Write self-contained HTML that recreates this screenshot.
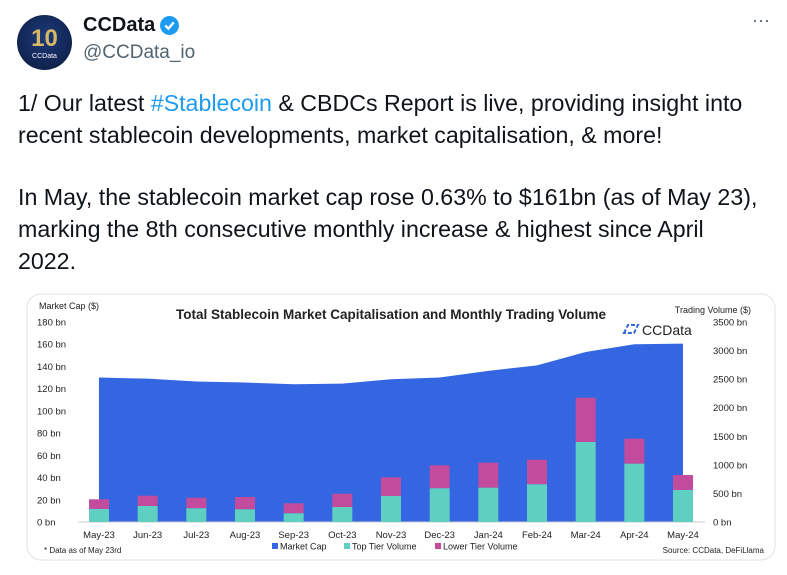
<!DOCTYPE html>
<html><head><meta charset="utf-8"><style>
body{margin:0;width:787px;height:575px;background:#fff;font-family:"Liberation Sans",sans-serif;position:relative;overflow:hidden}
.t{position:absolute;left:18px;font-size:23.2px;color:#0f1419;white-space:nowrap;line-height:32px}
</style></head><body>
<div style="position:absolute;left:17px;top:15px;width:55px;height:55px;border-radius:50%;background:radial-gradient(circle at 50% 40%,#1d3a7a,#0b1a3e);overflow:hidden">
<div style="position:absolute;left:0;right:0;top:10px;text-align:center;color:#d8b765;font-size:24px;font-weight:bold">10</div>
<div style="position:absolute;left:0;right:0;top:38px;text-align:center;color:#fff;font-size:7px">CCData</div></div>
<div style="position:absolute;left:83px;top:14px;font-size:20px;font-weight:bold;color:#0f1419">CCData</div>
<svg style="position:absolute;left:159px;top:15px" width="21" height="21" viewBox="0 0 20 20"><circle cx="10" cy="10" r="9" fill="#1d9bf0"/><path d="M6 10l3 3 5-6" stroke="#fff" stroke-width="2.2" fill="none"/></svg>
<div style="position:absolute;left:83px;top:42px;font-size:19px;color:#536471">@CCData_io</div>
<div style="position:absolute;left:752px;top:10px;font-size:18px;color:#536471">···</div>
<div class="t" style="top:87px">1/ Our latest <span style="color:#1d9bf0">#Stablecoin</span> &amp; CBDCs Report is live, providing insight into</div>
<div class="t" style="top:119px">recent stablecoin developments, market capitalisation, &amp; more!</div>
<div class="t" style="top:181px">In May, the stablecoin market cap rose 0.63% to $161bn (as of May 23),</div>
<div class="t" style="top:213px">marking the 8th consecutive monthly increase &amp; highest since April</div>
<div class="t" style="top:245px">2022.</div>
<svg id="chart" style="position:absolute;left:0;top:0" width="787" height="575" font-family="Liberation Sans, sans-serif"></svg>
<script>
const categories=["May-23","Jun-23","Jul-23","Aug-23","Sep-23","Oct-23","Nov-23","Dec-23","Jan-24","Feb-24","Mar-24","Apr-24","May-24"];
const marketCap=[130,129,126.5,125.5,124,124.5,128.5,130,136,141,153,160,160.5];
const topTier=[228,280,240,222,152,262,455,590,600,660,1400,1020,560];
const lowerTier=[169,180,185,216,175,233,327,402,438,430,775,438,262];
const leftTicks=[0,20,40,60,80,100,120,140,160,180];
const rightTicks=[0,500,1000,1500,2000,2500,3000,3500];
const NS="http://www.w3.org/2000/svg";
const svg=document.getElementById('chart');
const y0=522,y1=322;
const yL=v=>y0-(v/180)*(y0-y1);
const yR=v=>y0-(v/3500)*(y0-y1);
const xC=i=>99+i*(683-99)/(categories.length-1);
function mk(tag,attrs,txt){const e=document.createElementNS(NS,tag);for(const k in attrs)e.setAttribute(k,attrs[k]);if(txt!==undefined)e.textContent=txt;svg.appendChild(e);return e;}
let e=mk('rect',{x:27,y:294,width:748,height:266,rx:14,fill:'#fff',stroke:'#dfe3e8'});


e=mk('text',{x:391,y:319,'font-size':13.5,'font-weight':'bold','text-anchor':'middle',fill:'#222'},'Total Stablecoin Market Capitalisation and Monthly Trading Volume');


e=mk('text',{x:39,y:309,'font-size':9,fill:'#222'},'Market Cap ($)');


e=mk('text',{x:751,y:313,'font-size':9,fill:'#222','text-anchor':'end'},'Trading Volume ($)');


leftTicks.forEach(v=>{const t=mk('text',{x:37,y:yL(v)+3.5,'font-size':9.5,fill:'#222'},v+' bn');

});
rightTicks.forEach(v=>{const t=mk('text',{x:713,y:yR(v)+3.5,'font-size':9.5,fill:'#222'},v+' bn');

});
let d='M'+xC(0)+','+y0;
marketCap.forEach((v,i)=>{d+=' L'+xC(i)+','+yL(v);});
d+=' L'+xC(categories.length-1)+','+y0+' Z';
e=mk('path',{d:d,fill:'#3366e0'});


e=mk('line',{x1:78,x2:705,y1:y0,y2:y0,stroke:'#ccc'});


categories.forEach((c,i)=>{
 const x=xC(i),w=20;
 let r=mk('rect',{x:x-w/2,y:yR(topTier[i]+lowerTier[i]),width:w,height:yR(topTier[i])-yR(topTier[i]+lowerTier[i]),fill:'#c24b9d'});
 
 
 r=mk('rect',{x:x-w/2,y:yR(topTier[i]),width:w,height:y0-yR(topTier[i]),fill:'#5fcfc2'});
 
 
 const t=mk('text',{x:x,y:538,'font-size':9.5,'text-anchor':'middle',fill:'#222'},c);
 
 
});
e=mk('text',{x:642,y:335,'font-size':14,fill:'#222'},'CCData');


e=mk('path',{d:'M624 333 L628 325 L638 325 L634 333 Z',fill:'none',stroke:'#3366e0','stroke-width':2,'stroke-dasharray':'4 2'});


e=mk('text',{x:44,y:553,'font-size':8,fill:'#222'},'* Data as of May 23rd');


e=mk('text',{x:764,y:553,'font-size':8,fill:'#222','text-anchor':'end'},'Source: CCData, DeFiLlama');


const legend=[["Market Cap","#3366e0",272],["Top Tier Volume","#5fcfc2",344],["Lower Tier Volume","#c24b9d",435]];
legend.forEach(l=>{
 const r=mk('rect',{x:l[2],y:543,width:6,height:6,fill:l[1]});
 
 
 const t=mk('text',{x:l[2]+8,y:549.5,'font-size':9,fill:'#222'},l[0]);
 
 
});
</script>
</body></html>
